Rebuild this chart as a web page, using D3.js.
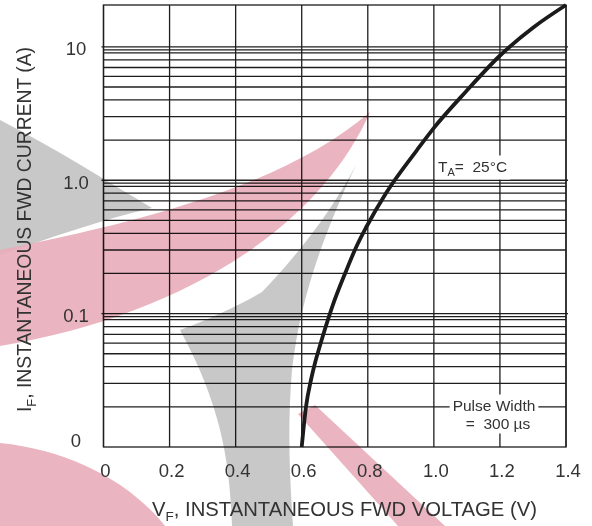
<!DOCTYPE html>
<html>
<head>
<meta charset="utf-8">
<script src="https://cdn.jsdelivr.net/npm/d3@7"></script>
<style>
  body { margin: 0; background: #fff; }
  svg { display: block; font-family: "Liberation Sans", Arial, sans-serif; }
  .grid { stroke: #1e1e1e; stroke-width: 1.3; fill: none; }
  .curve { stroke: #1c1a1b; stroke-width: 3.8; fill: none; stroke-linecap: butt; }
  .tick { fill: #333; font-size: 18.5px; }
  .title { fill: #333; font-size: 19.5px; }
  .note { fill: #333; font-size: 15.5px; white-space: pre; }
</style>
</head>
<body>
<svg id="chart" width="592" height="526"></svg>
<script>
const SVG = d3.select("#chart");

// forward voltage (V) vs forward current (A)
const VF = [0.600, 0.613, 0.628, 0.641, 0.654, 0.692, 0.733, 0.765, 0.796, 0.855, 0.949, 0.999, 1.096, 1.202, 1.303, 1.400];
const IF = [0.01, 0.02, 0.0318, 0.0434, 0.0562, 0.112, 0.205, 0.316, 0.448, 0.80, 1.685, 2.45, 4.59, 8.69, 14.1, 20.6];

const X_TICKS = [0, 0.2, 0.4, 0.6, 0.8, 1.0, 1.2, 1.4];
const X_LABELS = ["0", "0.2", "0.4", "0.6", "0.8", "1.0", "1.2", "1.4"];
const Y_DECADES = [0.01, 0.1, 1, 10];
const Y_LABELS = ["0", "0.1", "1.0", "10"];
const MINOR_STEPS = [2, 3, 4, 5, 6, 7, 8, 9, 9.5];

const X = d3.scaleLinear().domain([0, 1.4]).range([103.5, 566]);
const Y = d3.scaleLog().domain([0.01, 20.6]).range([447, 5]);

// watermark over the scan (decoration only)
const WATERMARK = [
  { fill: "#c2c2c2", d: "M0,120 C55,148 105,180 152,208 C100,220 50,238 0,255 Z" },
  { fill: "#e8adb9", d: "M0,250 C120,226 280,190 370,112 C322,222 190,314 0,346 Z" },
  { fill: "#c2c2c2", d: "M356,165 C322,238 300,300 292,370 C287,430 290,480 293,526 L232,526 C230,470 224,410 180,330 C212,318 240,305 262,292 C302,250 332,210 356,165 Z" },
  { fill: "#e8adb9", d: "M0,443 C70,450 130,482 165,526 L0,526 Z" },
  { fill: "#e8adb9", d: "M298,414 L315,405 L445,526 L398,526 Z" }
];

SVG.append("g")
  .selectAll("path")
  .data(WATERMARK)
  .enter()
  .append("path")
  .attr("d", d => d.d)
  .attr("fill", d => d.fill)
  .attr("opacity", 0.9);

const GRID = SVG.append("g").style("mix-blend-mode", "multiply");

// minor horizontal lines
const MINORS = [];
Y_DECADES.forEach(d => MINOR_STEPS.forEach(m => {
  const v = d * m;
  if (v < Y.domain()[1] * 0.97) MINORS.push(v);
}));

GRID.selectAll("line.minor")
  .data(MINORS)
  .enter()
  .append("line")
  .attr("class", "grid")
  .attr("x1", X(0))
  .attr("x2", X(1.4))
  .attr("y1", d => Y(d))
  .attr("y2", d => Y(d));

GRID.selectAll("line.decade")
  .data(Y_DECADES.slice(1))
  .enter()
  .append("line")
  .attr("class", "grid")
  .attr("x1", X(0) - 2)
  .attr("x2", X(1.4) + 2)
  .attr("y1", d => Y(d))
  .attr("y2", d => Y(d));

GRID.selectAll("line.vert")
  .data(X_TICKS)
  .enter()
  .append("line")
  .attr("class", "grid")
  .attr("x1", d => X(d))
  .attr("x2", d => X(d))
  .attr("y1", Y.range()[0])
  .attr("y2", Y.range()[1]);

GRID.append("rect")
  .attr("class", "grid")
  .attr("x", X(0))
  .attr("y", Y.range()[1])
  .attr("width", X(1.4) - X(0))
  .attr("height", Y.range()[0] - Y.range()[1]);

// annotations with white boxes knocking out the grid
function note(lines) {
  const G = SVG.append("g");
  const BG = G.append("rect").attr("fill", "#fff");
  const T = G.append("g");
  lines(T);
  const B = T.node().getBBox();
  BG.attr("x", B.x - 3).attr("y", B.y - 2).attr("width", B.width + 6).attr("height", B.height + 4);
}

note(T => {
  const TXT = T.append("text").attr("class", "note").attr("x", 438).attr("y", 171.5);
  TXT.append("tspan").text("T");
  TXT.append("tspan").attr("font-size", "11px").attr("dy", 4).text("A");
  TXT.append("tspan").attr("dy", -4).text("=  25°C");
});

note(T => {
  T.append("text").attr("class", "note").attr("x", 494).attr("y", 410.5)
    .attr("text-anchor", "middle").text("Pulse Width");
  T.append("text").attr("class", "note").attr("x", 498).attr("y", 428.5)
    .attr("text-anchor", "middle").text("=  300 µs");
});

const LINE = d3.line()
  .x((d, i) => X(VF[i]))
  .y(d => Y(d))
  .curve(d3.curveMonotoneX);

SVG.append("path")
  .datum(IF)
  .attr("class", "curve")
  .attr("d", LINE);

// tick labels
SVG.selectAll("text.ylab")
  .data(Y_DECADES)
  .enter()
  .append("text")
  .attr("class", "tick")
  .attr("x", 76)
  .attr("y", d => Math.min(Y(d) + 2, 440))
  .attr("text-anchor", "middle")
  .attr("dominant-baseline", "central")
  .text((d, i) => Y_LABELS[i]);

SVG.selectAll("text.xlab")
  .data(X_TICKS)
  .enter()
  .append("text")
  .attr("class", "tick")
  .attr("x", d => X(d) + 2)
  .attr("y", 477)
  .attr("text-anchor", "middle")
  .text((d, i) => X_LABELS[i]);

// axis titles
const XT = SVG.append("text")
  .attr("class", "title")
  .attr("x", 152)
  .attr("y", 516)
  .attr("textLength", 385)
  .attr("lengthAdjust", "spacingAndGlyphs");
XT.append("tspan").text("V");
XT.append("tspan").attr("font-size", "13px").attr("dy", 5).text("F");
XT.append("tspan").attr("dy", -5).text(", INSTANTANEOUS FWD VOLTAGE (V)");

const YT = SVG.append("text")
  .attr("class", "title")
  .attr("transform", "translate(31,412) rotate(-90)")
  .attr("textLength", 365)
  .attr("lengthAdjust", "spacingAndGlyphs");
YT.append("tspan").text("I");
YT.append("tspan").attr("font-size", "13px").attr("dy", 5).text("F");
YT.append("tspan").attr("dy", -5).text(", INSTANTANEOUS FWD CURRENT (A)");
</script>
</body>
</html>
